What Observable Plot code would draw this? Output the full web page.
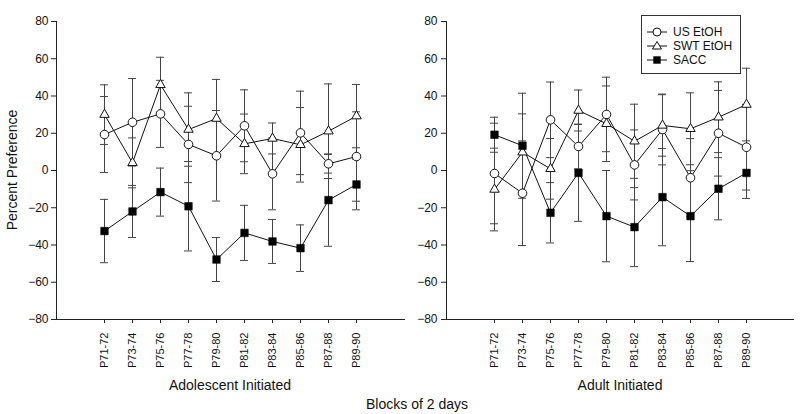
<!DOCTYPE html>
<html><head><meta charset="utf-8">
<script src="https://cdn.jsdelivr.net/npm/d3@7"></script>
<script src="https://cdn.jsdelivr.net/npm/@observablehq/plot@0.6"></script>
<style>
body{margin:0;background:#fff}
#wrap{position:relative;width:800px;height:414px;font-family:"Liberation Sans",Arial,sans-serif;color:#111}
#wrap svg{position:absolute;top:0}
</style>
</head><body><div id="wrap"></div>
<script>
const blocks = ["P71-72","P73-74","P75-76","P77-78","P79-80","P81-82","P83-84","P85-86","P87-88","P89-90"];
const seriesNames = ["US EtOH","SWT EtOH","SACC"];
const yTicks = [-80,-60,-40,-20,0,20,40,60,80];

// Adolescent Initiated
const usAdol       = [19.3, 25.9, 30.4, 14.0,  7.9, 24.0, -1.8, 20.2,  3.6,  7.5];
const usAdolErr    = [20.4, 23.5, 18.0, 20.5, 24.3, 19.3, 19.3, 22.4,  5.0, 24.0];
const swtAdol      = [30.0,  4.1, 46.0, 22.0, 27.9, 14.3, 17.2, 13.8, 21.1, 29.2];
const swtAdolErr   = [16.0, 13.4, 14.8, 19.7, 21.0, 16.0,  8.3, 20.0, 25.4, 17.0];
const saccAdol     = [-32.5, -22.0, -11.6, -19.2, -47.8, -33.5, -38.1, -41.7, -15.9, -7.5];
const saccAdolErr  = [17.0, 14.0, 12.9, 24.0, 11.8, 14.8, 11.8, 12.5, 24.8, 13.6];

// Adult Initiated
const usAdult      = [-1.6, -12.2, 27.2, 12.9, 30.1,  3.0, 22.0, -3.9, 20.0, 12.5];
const usAdultErr   = [27.0, 28.1, 20.3, 12.0, 20.0, 18.8, 19.0, 21.0, 23.0, 23.0];
const swtAdult     = [-10.2, 9.8,  0.9, 32.2, 25.1, 15.7, 24.2, 22.4, 28.6, 35.4];
const swtAdultErr  = [22.2, 20.6, 16.3, 11.0, 20.3, 19.9, 16.5, 19.3, 19.0, 19.5];
const saccAdult    = [19.2, 13.3, -22.7, -1.3, -24.5, -30.4, -14.3, -24.5, -9.8, -1.3];
const saccAdultErr = [ 9.4, 28.2, 16.2, 26.0, 24.5, 21.2, 26.1, 24.4, 16.7, 13.7];

const fmt = d => d < 0 ? "\u2212" + (-d) : String(d);
const FONT = '"Liberation Sans", Arial, Helvetica, sans-serif';

function rowsFor(vals, errs) {
  const rows = [];
  vals.forEach((v, s) => blocks.forEach((b, i) => rows.push({
    series: seriesNames[s], block: b, value: v[i], lo: v[i] - errs[s][i], hi: v[i] + errs[s][i]
  })));
  return rows;
}

function panel(rows, o) {
  return Plot.plot({
    width: o.width, height: 414,
    marginLeft: o.ml, marginRight: o.mr, marginTop: 21, marginBottom: 95,
    style: {fontFamily: FONT, background: "transparent", color: "#111", overflow: "visible"},
    x: {type: "point", domain: blocks, range: o.xr, label: null},
    y: {domain: [-80, 80], label: null},
    marks: [
      Plot.axisY({ticks: yTicks, tickFormat: fmt, tickSize: 5, tickPadding: o.tp, fontSize: 12, label: null, stroke: "#222"}),
      Plot.axisX({tickSize: 4, tickPadding: 9, tickRotate: -90, fontSize: 11, label: null, stroke: "#222"}),
      Plot.frame({anchor: "left", stroke: "#222"}),
      Plot.frame({anchor: "bottom", stroke: "#222"}),
      Plot.line(rows, {x: "block", y: "value", z: "series", stroke: "#111", strokeWidth: 1}),
      Plot.ruleX(rows, {x: "block", y1: "lo", y2: "hi", stroke: "#444", strokeWidth: 1}),
      Plot.ruleY(rows, {y: "lo", x1: "block", x2: "block", insetLeft: -4, insetRight: -4, stroke: "#444", strokeWidth: 1}),
      Plot.ruleY(rows, {y: "hi", x1: "block", x2: "block", insetLeft: -4, insetRight: -4, stroke: "#444", strokeWidth: 1}),
      Plot.dot(rows.filter(d => d.series === "US EtOH"), {x: "block", y: "value", symbol: "circle", r: 4.3, fill: "#fff", stroke: "#111", strokeWidth: 1}),
      Plot.dot(rows.filter(d => d.series === "SWT EtOH"), {x: "block", y: "value", symbol: "triangle", r: 3.5, fill: "#fff", stroke: "#111", strokeWidth: 1}),
      Plot.dot(rows.filter(d => d.series === "SACC"), {x: "block", y: "value", symbol: "square", r: 4.3, fill: "#000", stroke: "#000", strokeWidth: 0.5})
    ]
  });
}

const wrap = document.getElementById("wrap");
const left = panel(rowsFor([usAdol, swtAdol, saccAdol], [usAdolErr, swtAdolErr, saccAdolErr]),
  {width: 404, ml: 56, mr: 0, xr: [88, 372], tp: 3});
left.style.left = "0px";
const right = panel(rowsFor([usAdult, swtAdult, saccAdult], [usAdultErr, swtAdultErr, saccAdultErr]),
  {width: 400, ml: 46, mr: 7, xr: [78, 362], tp: 4});
right.style.left = "400px";
wrap.appendChild(left);
wrap.appendChild(right);

// overlay: titles and legend
const NS = "http://www.w3.org/2000/svg";
const ov = document.createElementNS(NS, "svg");
ov.setAttribute("width", 800); ov.setAttribute("height", 414);
ov.style.left = "0px"; ov.style.fontFamily = FONT;
wrap.appendChild(ov);
function txt(s, x, y, size, anchor, rot) {
  const t = document.createElementNS(NS, "text");
  t.textContent = s; t.setAttribute("x", x); t.setAttribute("y", y);
  t.setAttribute("font-size", size); t.setAttribute("text-anchor", anchor || "middle");
  t.setAttribute("fill", "#111");
  if (rot) t.setAttribute("transform", `rotate(${rot},${x},${y})`);
  ov.appendChild(t); return t;
}
function el(name, attrs) {
  const e = document.createElementNS(NS, name);
  for (const k in attrs) e.setAttribute(k, attrs[k]);
  ov.appendChild(e); return e;
}
txt("Adolescent Initiated", 230, 390, 14);
txt("Adult Initiated", 620, 390, 14);
txt("Blocks of 2 days", 417, 409, 14);
txt("Percent Preference", 17, 170, 14, "middle", -90);

// legend
el("rect", {x: 641.5, y: 15.5, width: 99, height: 58, fill: "#fff", stroke: "#333", "stroke-width": 1});
const ly = [32, 46, 60];
seriesNames.forEach((s, i) => {
  el("line", {x1: 647, x2: 667, y1: ly[i], y2: ly[i], stroke: "#111", "stroke-width": 1});
  if (i === 0) el("circle", {cx: 657, cy: ly[i], r: 4, fill: "#fff", stroke: "#111"});
  if (i === 1) el("path", {d: `M657,${ly[i]-4.5}L661.5,${ly[i]+3}L652.5,${ly[i]+3}Z`, fill: "#fff", stroke: "#111"});
  if (i === 2) el("rect", {x: 653.3, y: ly[i]-3.7, width: 7.4, height: 7.4, fill: "#000"});
  txt(s, 673, ly[i] + 4.3, 12, "start");
});
</script>
</body></html>
